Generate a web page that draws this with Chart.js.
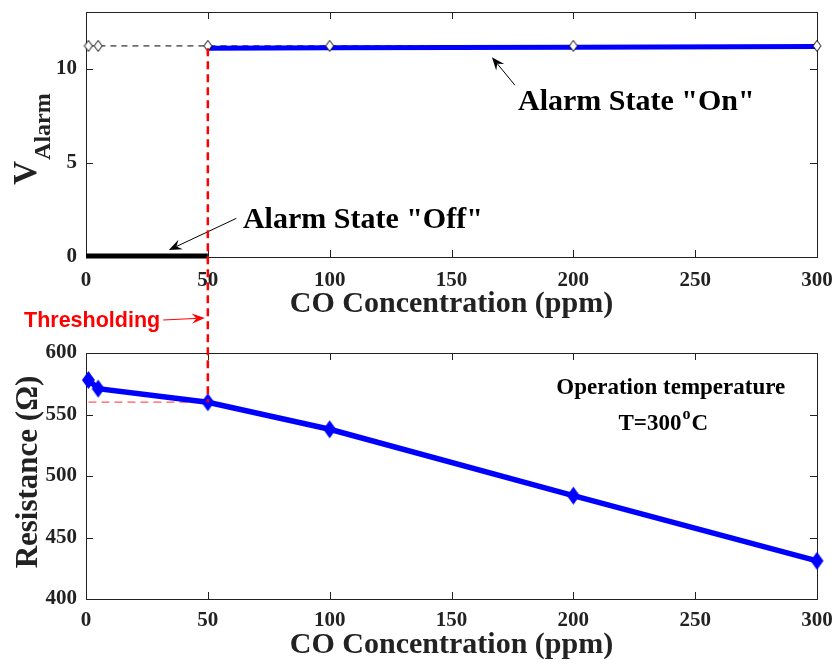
<!DOCTYPE html>
<html>
<head>
<meta charset="utf-8">
<script src="https://cdn.jsdelivr.net/npm/chart.js@4.4.1/dist/chart.umd.min.js"></script>
<style>
html,body{margin:0;padding:0;background:#fff;}
#wrap{position:relative;width:837px;height:666px;}
canvas{position:absolute;left:0;}
#c1{top:0;}
#c2{top:330px;}
#ov{top:0;pointer-events:none;}
</style>
</head>
<body>
<div id="wrap">
<canvas id="c1" width="837" height="330"></canvas>
<canvas id="c2" width="837" height="336"></canvas>
<canvas id="ov" width="837" height="666"></canvas>
</div>
<script>
// ---- data ----
const concentration = [1, 5, 50, 100, 200, 300];          // ppm
const resistance    = [578, 571, 560, 538, 484, 431];     // Ohm
const vAlarmLevel   = [11.2, 11.2, 11.2, 11.2, 11.2, 11.2];
const vOnX   = [50, 100, 200, 300];
const vOnY   = [11.07, 11.1, 11.13, 11.17];
const vOffX  = [0, 50];
const vOffY  = [0.05, 0.05];
const threshold = 50;
const thresholdRes = 560;
const xTicks = [0, 50, 100, 150, 200, 250, 300];
const vTicks = [0, 5, 10];
const rTicks = [400, 450, 500, 550, 600];

const SERIF = "'Liberation Serif', 'Times New Roman', serif";
const SANS = "'Liberation Sans', Arial, sans-serif";
const INK = '#222';

function pts(xs, ys){ return xs.map((x,i)=>({x:x, y:ys[i]})); }

function diamond(w, h, fill, stroke, lw){
  const c = document.createElement('canvas');
  c.width = w + 2; c.height = h + 2;
  const g = c.getContext('2d');
  g.beginPath();
  g.moveTo(c.width/2, 1); g.lineTo(c.width-1, c.height/2);
  g.lineTo(c.width/2, c.height-1); g.lineTo(1, c.height/2); g.closePath();
  if (fill){ g.fillStyle = fill; g.fill(); }
  if (stroke){ g.strokeStyle = stroke; g.lineWidth = lw; g.stroke(); }
  return c;
}
const openDiamond = diamond(8, 11, '#fff', '#000', 1);
const blueDiamond = diamond(13, 18, '#0000ff', null, 0);

function arrow(ctx, x1, y1, x2, y2, color, lw, head){
  ctx.save();
  ctx.strokeStyle = color; ctx.fillStyle = color; ctx.lineWidth = lw;
  const a = Math.atan2(y2-y1, x2-x1);
  ctx.beginPath(); ctx.moveTo(x1,y1);
  ctx.lineTo(x2 - Math.cos(a)*head*0.6, y2 - Math.sin(a)*head*0.6); ctx.stroke();
  ctx.beginPath();
  ctx.moveTo(x2, y2);
  ctx.lineTo(x2 - head*Math.cos(a-0.38), y2 - head*Math.sin(a-0.38));
  ctx.lineTo(x2 - head*0.6*Math.cos(a), y2 - head*0.6*Math.sin(a));
  ctx.lineTo(x2 - head*Math.cos(a+0.38), y2 - head*Math.sin(a+0.38));
  ctx.closePath(); ctx.fill();
  ctx.restore();
}

const boxPlugin = {
  id: 'box',
  beforeDatasetsDraw(chart){
    const {ctx, chartArea:{left,right,top,bottom}, scales:{x,y}} = chart;
    ctx.save();
    ctx.strokeStyle = INK; ctx.lineWidth = 1;
    ctx.strokeRect(Math.round(left)+0.5, Math.round(top)+0.5, Math.round(right-left), Math.round(bottom-top));
    const L = 7;
    ctx.beginPath();
    x.ticks.forEach(t=>{
      const px = Math.round(x.getPixelForValue(t.value))+0.5;
      ctx.moveTo(px, bottom); ctx.lineTo(px, bottom-L);
      ctx.moveTo(px, top); ctx.lineTo(px, top+L);
    });
    y.ticks.forEach(t=>{
      const py = Math.round(y.getPixelForValue(t.value))+0.5;
      ctx.moveTo(left, py); ctx.lineTo(left+L, py);
      ctx.moveTo(right, py); ctx.lineTo(right-L, py);
    });
    ctx.stroke();
    ctx.restore();
  }
};

function zeroPad(s){ s.paddingTop = 0; s.paddingBottom = 0; s.paddingLeft = 0; s.paddingRight = 0; }

function xScale(h){
  return {
    type:'linear', min:0, max:300,
    afterBuildTicks(s){ s.ticks = xTicks.map(v=>({value:v})); },
    grid:{display:false, drawTicks:false},
    border:{display:false},
    ticks:{color:INK, padding:h.tp, font:{family:SERIF, weight:'bold', size:21}},
    title:{display:true, text:'CO Concentration (ppm)', color:INK,
           font:{family:SERIF, weight:'bold', size:30}, padding:{top:0, bottom:h.tb}},
    afterFit(s){ s.height = h.height; zeroPad(s); }
  };
}
function yScale(min, max, ticks){
  return {
    type:'linear', min:min, max:max,
    afterBuildTicks(s){ s.ticks = ticks.map(v=>({value:v})); },
    grid:{display:false, drawTicks:false},
    border:{display:false},
    ticks:{color:INK, padding:9, font:{family:SERIF, weight:'bold', size:21}},
    afterFit(s){ s.width = 86; zeroPad(s); }
  };
}

const common = {
  responsive:false, animation:false, devicePixelRatio:1,
  plugins:{legend:{display:false}, tooltip:{enabled:false}},
  events:[]
};

// ---- top chart: alarm voltage ----
const annotTop = {
  id:'annotTop',
  afterDraw(chart){
    const {ctx, scales:{x,y}} = chart;
    ctx.save();
    // y title V_Alarm
    const cy = (chart.chartArea.top + chart.chartArea.bottom)/2 + 5;
    ctx.translate(0, cy); ctx.rotate(-Math.PI/2);
    ctx.fillStyle = INK; ctx.textBaseline = 'alphabetic';
    ctx.font = `bold 33px ${SERIF}`;
    const w1 = ctx.measureText('V').width;
    ctx.font = `bold 24px ${SERIF}`;
    const w2 = ctx.measureText('Alarm').width;
    const start = -(w1 + w2)/2;
    ctx.font = `bold 33px ${SERIF}`;
    ctx.fillText('V', start, 36);
    ctx.font = `bold 24px ${SERIF}`;
    ctx.fillText('Alarm', start + w1 + 1, 50);
    ctx.restore();

    ctx.save();
    ctx.fillStyle = '#000'; ctx.textBaseline = 'middle';
    ctx.font = `bold 30px ${SERIF}`;
    arrow(ctx, x.getPixelForValue(176), y.getPixelForValue(9.12),
               x.getPixelForValue(166.6), y.getPixelForValue(10.6), '#000', 1, 14);
    ctx.fillText('Alarm State "On"', x.getPixelForValue(177.3), y.getPixelForValue(8.2));
    arrow(ctx, x.getPixelForValue(61.7), y.getPixelForValue(2.05),
               x.getPixelForValue(34), y.getPixelForValue(0.37), '#000', 1, 14);
    ctx.fillText('Alarm State "Off"', x.getPixelForValue(64.4), y.getPixelForValue(1.95));
    ctx.restore();
  }
};

const chart1 = new Chart(document.getElementById('c1'), {
  type:'line',
  data:{datasets:[
    {data:pts(concentration, vAlarmLevel), showLine:false, pointStyle:openDiamond,
     pointRadius:5, order:0, clip:false},
    {data:pts(vOnX, vOnY), borderColor:'#0000ff', borderWidth:5, pointRadius:0,
     order:1, clip:false},
    {data:pts(vOffX, vOffY), borderColor:'#000', borderWidth:5, pointRadius:0,
     order:2, clip:false},
    {data:pts(concentration, vAlarmLevel), borderColor:'#000', borderWidth:1,
     borderDash:[6,5], pointRadius:0, order:3, clip:false}
  ]},
  options:Object.assign({}, common, {
    layout:{padding:{top:12, right:20, left:0, bottom:0}},
    scales:{x:xScale({height:73, tb:8, tp:11}), y:yScale(0, 13, vTicks)}
  }),
  plugins:[boxPlugin, annotTop]
});

// ---- bottom chart: resistance ----
const annotBottom = {
  id:'annotBottom',
  afterDraw(chart){
    const {ctx, scales:{x,y}} = chart;
    ctx.save();
    const cy = 472 - 330;
    ctx.translate(0, cy); ctx.rotate(-Math.PI/2);
    ctx.fillStyle = INK; ctx.textAlign = 'center'; ctx.textBaseline = 'alphabetic';
    ctx.font = `bold 31px ${SERIF}`;
    ctx.fillText('Resistance (\u03A9)', 0, 37);
    ctx.restore();

    ctx.save();
    ctx.fillStyle = '#000'; ctx.textAlign = 'center'; ctx.textBaseline = 'middle';
    ctx.font = `bold 23px ${SERIF}`;
    ctx.fillText('Operation temperature', x.getPixelForValue(240), y.getPixelForValue(571.5));
    const tx = x.getPixelForValue(236.5), ty = y.getPixelForValue(542.5);
    const p1 = 'T=300', p2 = 'o', p3 = 'C';
    const w1 = ctx.measureText(p1).width;
    ctx.font = `bold 16px ${SERIF}`;
    const w2 = ctx.measureText(p2).width;
    ctx.font = `bold 23px ${SERIF}`;
    const w3 = ctx.measureText(p3).width;
    let sx = tx - (w1+w2+w3)/2;
    ctx.textAlign = 'left';
    ctx.fillText(p1, sx, ty);
    ctx.font = `bold 16px ${SERIF}`;
    ctx.fillText(p2, sx + w1 + 1, ty - 9);
    ctx.font = `bold 23px ${SERIF}`;
    ctx.fillText(p3, sx + w1 + w2 + 2, ty);
    ctx.restore();
  }
};

const chart2 = new Chart(document.getElementById('c2'), {
  type:'line',
  data:{datasets:[
    {data:pts(concentration, resistance), borderColor:'#0000ff', borderWidth:5.5,
     pointStyle:blueDiamond, pointRadius:8, order:0, clip:false},
    {data:[{x:concentration[0], y:thresholdRes}, {x:threshold, y:thresholdRes}],
     borderColor:'rgba(255,0,0,0.65)', borderWidth:1.2, borderDash:[8,5],
     pointRadius:0, order:1, clip:false}
  ]},
  options:Object.assign({}, common, {
    layout:{padding:{top:23, right:20, left:0, bottom:0}},
    scales:{x:xScale({height:67, tb:3, tp:9}), y:yScale(400, 600, rTicks)}
  }),
  plugins:[boxPlugin, annotBottom]
});

// ---- overlay: thresholding line spanning both plots ----
(function(){
  const ov = document.getElementById('ov');
  const ctx = ov.getContext('2d');
  const top2 = 330;
  const xA = chart1.scales.x.getPixelForValue(threshold);
  const yA = chart1.scales.y.getPixelForValue(vOnY[0]);
  const xB = chart2.scales.x.getPixelForValue(threshold);
  const yB = top2 + chart2.scales.y.getPixelForValue(thresholdRes);
  ctx.save();
  ctx.strokeStyle = '#ff0000'; ctx.lineWidth = 2.5; ctx.setLineDash([8,5]);
  ctx.beginPath(); ctx.moveTo(xA, yA); ctx.lineTo(xB, yB); ctx.stroke();
  ctx.restore();

  ctx.save();
  ctx.fillStyle = '#ff0000'; ctx.textBaseline = 'middle';
  ctx.font = `bold 21.5px ${SANS}`;
  ctx.fillText('Thresholding', 24, 321);
  const tw = ctx.measureText('Thresholding').width;
  arrow(ctx, 24 + tw + 3, 320, xA - 3, 318, '#ff0000', 1, 14);
  ctx.restore();
})();
</script>
</body>
</html>
